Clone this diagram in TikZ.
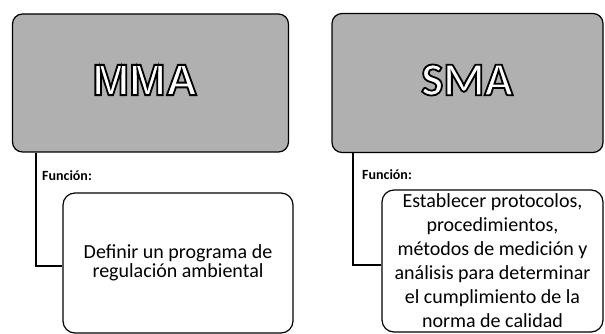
\documentclass[tikz,border=0pt]{standalone}
\usepackage{fontspec}
\setmainfont{Carlito}
\newfontfamily\arialfont{Liberation Sans}[BoldFont={Liberation Sans Bold}]
\newcommand\hollowtext[1]{\textcolor{white}{\special{pdf:code 2 Tr 1.8 w 0 G}#1\special{pdf:code 0 Tr}}}
\tikzset{
  topbox/.style={draw, line width=1.2pt, rounded corners=10pt, fill=gray!62},
  funcbox/.style={draw, line width=1.2pt, rounded corners=12pt, fill=white, align=center, font=\fontsize{20}{24}\selectfont},
  conn/.style={line width=1.5pt},
  funclabel/.style={font=\fontsize{14}{16}\selectfont\bfseries, anchor=base west, inner sep=0pt}
}
\begin{document}
\begin{tikzpicture}[x=1pt,y=-1pt]
\useasboundingbox (0,0) rectangle (605,334);
\node[topbox, minimum width=276pt, minimum height=138pt] (mma) at (150.5,83){};
\node (mmat) at (145,80){\arialfont\bfseries\fontsize{44}{44}\selectfont\hollowtext{MMA}};
\node[topbox, minimum width=271pt, minimum height=139pt] (sma) at (467.5,83){};
\node (smat) at (467,80){\bfseries\fontsize{47}{47}\selectfont\hollowtext{SMA}};
\node[funclabel] (fl) at (42,180){Función:};
\node[funclabel] (fr) at (362,179){Función:};
\node[funcbox, minimum width=230pt, minimum height=140pt, font=\fontsize{20}{19}\selectfont] (defl) at (178,263){Definir un programa de\\regulación ambiental};
\node[funcbox, minimum width=221pt, minimum height=142pt, inner sep=1pt] (defr) at (492.5,261){Establecer protocolos,\\procedimientos,\\métodos de medición y\\análisis para determinar\\el cumplimiento de la\\norma de calidad};
\coordinate (jl) at (36,266);
\coordinate (jr) at (353,265);
\draw[conn] (mma.south -| jl) -- (jl) -- (defl.west |- jl);
\draw[conn] (sma.south -| jr) -- (jr) -- (defr.west |- jr);
\end{tikzpicture}
\end{document}
